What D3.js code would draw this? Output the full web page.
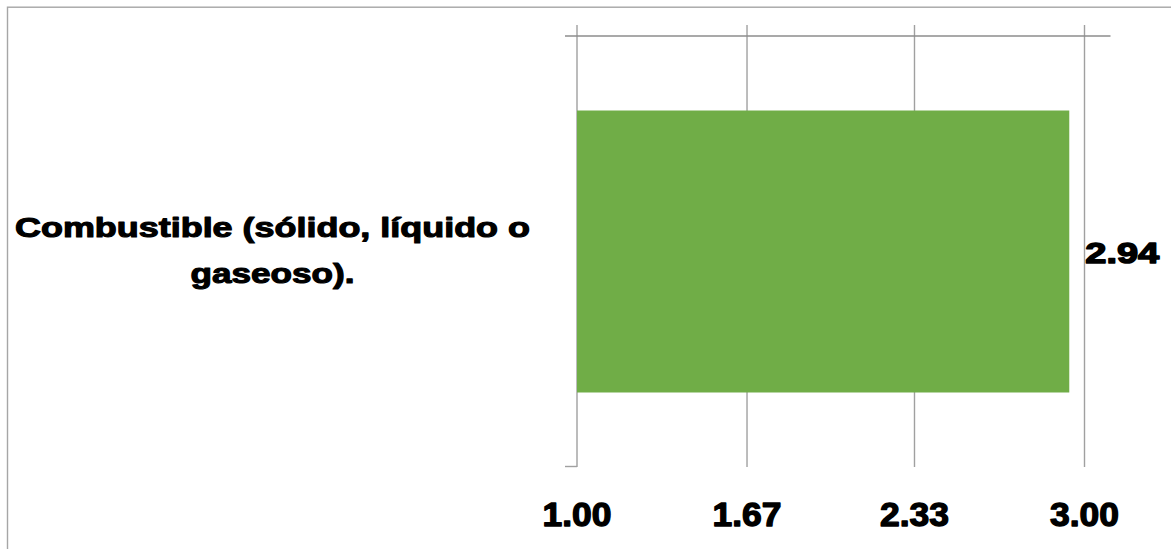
<!DOCTYPE html>
<html>
<head>
<meta charset="utf-8">
<script src="https://cdn.jsdelivr.net/npm/d3@7/dist/d3.min.js"></script>
<style>
  html, body { margin: 0; padding: 0; background: #ffffff; overflow: hidden; }
  svg { display: block; }
  text { font-family: "Liberation Sans", Arial, sans-serif; font-weight: bold; fill: #000; stroke: #000; stroke-linejoin: round; }
</style>
</head>
<body>
<svg id="chart" width="1171" height="549"></svg>
<script>
// ---- data ----
const categories = ["Combustible (sólido, líquido o gaseoso)."];
const categoryLines = [["Combustible (sólido, líquido o", "gaseoso)."]];
const values = [2.94];
const tickValues = [1.00, 1.67, 2.33, 3.00];
const tickLabels = ["1.00", "1.67", "2.33", "3.00"];
const valueLabels = ["2.94"];

// ---- layout ----
const svg = d3.select("#chart");
const W = 1171, H = 549;
const plotLeft = 577, plotRight = 1084.5, plotTop = 36, plotBottom = 467;

const x = d3.scaleLinear().domain([1, 3]).range([plotLeft, plotRight]);
const y = d3.scaleBand().domain(categories).range([plotTop, plotBottom]).padding(0.209);

// outer border
svg.append("rect")
  .attr("x", 7.5).attr("y", 7.2)
  .attr("width", W + 20).attr("height", H + 20)
  .attr("fill", "none").attr("stroke", "#a6a6a6").attr("stroke-width", 1.4);

// helper to stretch text horizontally to a given width
function stretch(sel, width) {
  sel.attr("textLength", width).attr("lengthAdjust", "spacingAndGlyphs");
}

// vertical grid lines (incl. axis line at 1.00)
svg.append("g").selectAll("line")
  .data(tickValues)
  .join("line")
  .attr("x1", d => x(d)).attr("x2", d => x(d))
  .attr("y1", plotTop - 11).attr("y2", plotBottom)
  .attr("stroke", "#a0a0a0").attr("stroke-width", 1.4);

// top horizontal line
svg.append("line")
  .attr("x1", x(1) - 12).attr("x2", x(3) + 26)
  .attr("y1", plotTop).attr("y2", plotTop)
  .attr("stroke", "#8c8c8c").attr("stroke-width", 1.4);

// bottom small tick at left
svg.append("line")
  .attr("x1", x(1) - 12).attr("x2", x(1))
  .attr("y1", plotBottom - 0.5).attr("y2", plotBottom - 0.5)
  .attr("stroke", "#a0a0a0").attr("stroke-width", 1.4);

// bars
svg.append("g").selectAll("rect")
  .data(values)
  .join("rect")
  .attr("x", x(1))
  .attr("y", (d, i) => y(categories[i]))
  .attr("width", d => x(d) - x(1))
  .attr("height", y.bandwidth())
  .attr("fill", "#70ad47");

// tick labels (bottom)
svg.append("g").selectAll("text")
  .data(tickValues)
  .join("text")
  .attr("x", d => x(d))
  .attr("y", 526)
  .attr("text-anchor", "middle")
  .attr("font-size", 32.5)
  .attr("stroke-width", 1.3)
  .text((d, i) => tickLabels[i])
  .call(stretch, 69);

// value labels
svg.append("g").selectAll("text")
  .data(values)
  .join("text")
  .attr("x", d => x(d) + 16)
  .attr("y", (d, i) => y(categories[i]) + y.bandwidth() / 2 + 11)
  .attr("text-anchor", "start")
  .attr("font-size", 30)
  .attr("stroke-width", 1.5)
  .text((d, i) => valueLabels[i])
  .call(stretch, 74);

// category labels
const catWidths = [[515, 164]];
categories.forEach((c, i) => {
  const cy = y(c) + y.bandwidth() / 2;
  const lines = categoryLines[i];
  lines.forEach((ln, j) => {
    svg.append("text")
      .attr("x", 272.5)
      .attr("y", cy - 14.5 + j * 46)
      .attr("text-anchor", "middle")
      .attr("font-size", 27.5)
      .attr("stroke-width", 1.1)
      .text(ln)
      .call(stretch, catWidths[i][j]);
  });
});
</script>
</body>
</html>
